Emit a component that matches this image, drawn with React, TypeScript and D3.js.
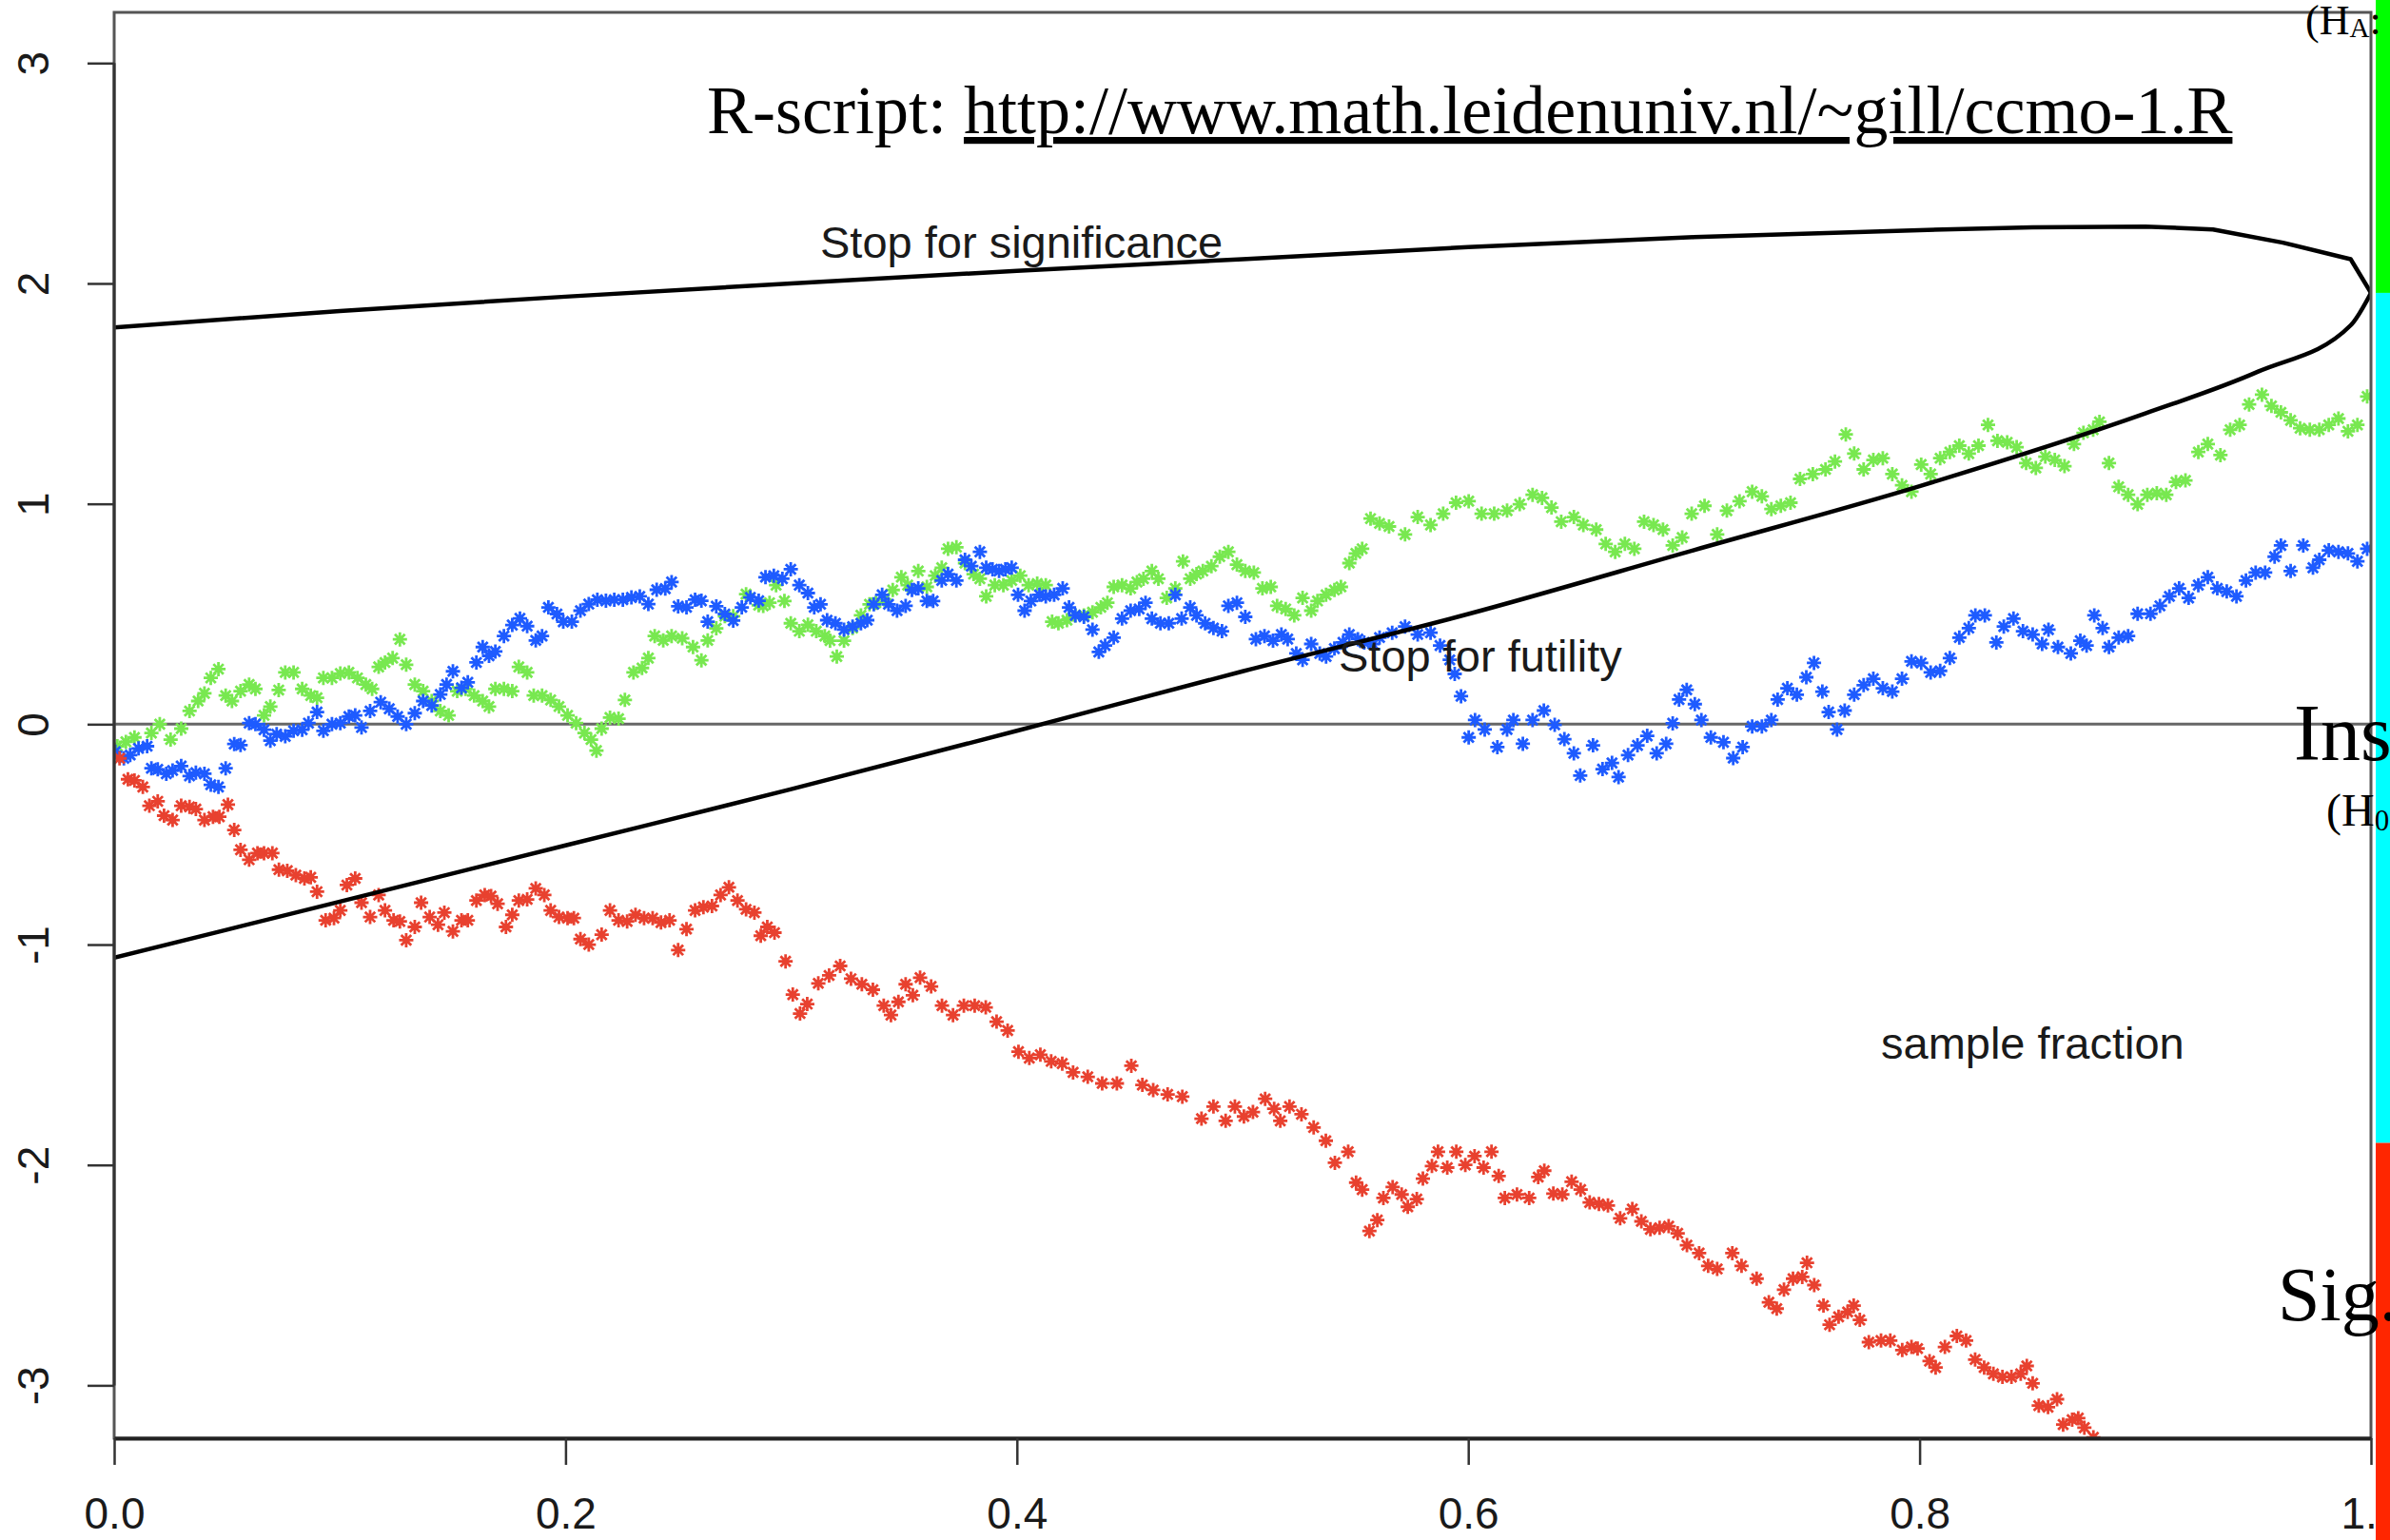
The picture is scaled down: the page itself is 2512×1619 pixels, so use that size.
import React, { useRef, useEffect } from 'react';
import * as d3 from 'd3';

const WIDTH = 2512;
const HEIGHT = 1619;
const PLOT = { left: 120, right: 2492, top: 13, bottom: 1512 };

const SANS = "'Liberation Sans', Arial, Helvetica, sans-serif";
const SERIF = "'Liberation Serif', 'Times New Roman', Times, serif";

const GREEN = '#78e850';
const BLUE = '#1e5bff';
const RED = '#e8412f';

const X_TICKS = [0, 0.2, 0.4, 0.6, 0.8, 1.0];
const Y_TICKS = [-3, -2, -1, 0, 1, 2, 3];
const Y_DOMAIN: [number, number] = [-3.24, 3.23];

// group-sequential boundaries (sample fraction, z)
const SIGNIFICANCE: [number, number][] = [
  [0, 1.80], [0.1, 1.875], [0.2, 1.94], [0.3, 2.0], [0.4, 2.057], [0.5, 2.11],
  [0.6, 2.165], [0.7, 2.21], [0.8, 2.242], [0.85, 2.255], [0.9, 2.258], [0.93, 2.245],
  [0.961, 2.185], [0.991, 2.11], [1.0, 1.957],
];
const FUTILITY: [number, number][] = [
  [0, -1.06], [0.1, -0.805], [0.2, -0.55], [0.3, -0.295], [0.4, -0.03], [0.5, 0.24],
  [0.6, 0.50], [0.7, 0.79], [0.8, 1.08], [0.9, 1.41], [0.95, 1.60], [0.991, 1.81], [1.0, 1.957],
];

// three simulated trials: cumulative z-statistic against sample fraction
const GREEN_WALK: [number, number][] = [
  [0.0014, -0.10], [0.0052, -0.08], [0.0090, -0.06], [0.0165, -0.04], [0.0202, 0.0], [0.0250, -0.07],
  [0.0297, -0.02], [0.0334, 0.06], [0.0372, 0.105], [0.0400, 0.14], [0.0428, 0.21], [0.0462, 0.25],
  [0.0494, 0.13], [0.0522, 0.105], [0.0560, 0.15], [0.0598, 0.18], [0.0626, 0.16], [0.0664, 0.04],
  [0.0692, 0.08], [0.0729, 0.155], [0.0758, 0.235], [0.0795, 0.235], [0.0833, 0.16], [0.0871, 0.13],
  [0.0899, 0.12], [0.0927, 0.21], [0.0965, 0.21], [0.1002, 0.23], [0.1040, 0.235], [0.1078, 0.21],
  [0.1115, 0.18], [0.1143, 0.16], [0.1172, 0.26], [0.1200, 0.28], [0.1234, 0.30], [0.1266, 0.385],
  [0.1294, 0.27], [0.1332, 0.18], [0.1369, 0.15], [0.1407, 0.105], [0.1445, 0.06], [0.1482, 0.04],
  [0.1520, 0.15], [0.1557, 0.16], [0.1595, 0.13], [0.1633, 0.105], [0.1661, 0.08], [0.1689, 0.16],
  [0.1727, 0.16], [0.1764, 0.15], [0.1793, 0.26], [0.1830, 0.235], [0.1859, 0.13], [0.1896, 0.13],
  [0.1934, 0.11], [0.1971, 0.08], [0.2009, 0.04], [0.2047, 0.005], [0.2084, -0.04], [0.2113, -0.07],
  [0.2137, -0.12], [0.2160, -0.02], [0.2197, 0.03], [0.2235, 0.025], [0.2263, 0.11], [0.2301, 0.235],
  [0.2339, 0.255], [0.2367, 0.30], [0.2395, 0.40], [0.2433, 0.38], [0.2470, 0.40], [0.2517, 0.39],
  [0.2565, 0.35], [0.2602, 0.29], [0.2630, 0.38], [0.2668, 0.435], [0.2706, 0.49], [0.2743, 0.49],
  [0.2800, 0.59], [0.2856, 0.54],
  [0.2876, 0.537], [0.2904, 0.551], [0.2933, 0.631], [0.2970, 0.559], [0.2998, 0.458], [0.3036, 0.422],
  [0.3074, 0.451], [0.3111, 0.422], [0.3149, 0.40], [0.3172, 0.379], [0.3202, 0.307], [0.3234, 0.379],
  [0.3272, 0.436], [0.3309, 0.494], [0.3347, 0.544], [0.3375, 0.551], [0.3413, 0.566], [0.3450, 0.609],
  [0.3488, 0.667], [0.3516, 0.631], [0.3563, 0.695], [0.3601, 0.623], [0.3638, 0.674], [0.3667, 0.71],
  [0.3695, 0.796], [0.3732, 0.803], [0.3770, 0.731], [0.3808, 0.681], [0.3836, 0.66], [0.3864, 0.58],
  [0.3902, 0.631], [0.3940, 0.631], [0.3977, 0.652], [0.4015, 0.674], [0.4052, 0.631], [0.4090, 0.638],
  [0.4128, 0.631], [0.4156, 0.465], [0.4184, 0.458], [0.4222, 0.472], [0.4259, 0.494], [0.4297, 0.494],
  [0.4335, 0.508], [0.4372, 0.53], [0.4401, 0.551], [0.4429, 0.623], [0.4466, 0.631], [0.4504, 0.616],
  [0.4532, 0.645], [0.4561, 0.66], [0.4598, 0.695], [0.4627, 0.66], [0.4664, 0.573], [0.4702, 0.616],
  [0.4736, 0.739], [0.4768, 0.66], [0.4796, 0.681], [0.4824, 0.695], [0.4862, 0.717], [0.4899, 0.76],
  [0.4937, 0.782], [0.4975, 0.724], [0.5012, 0.695], [0.5050, 0.688], [0.5088, 0.616], [0.5125, 0.623],
  [0.5153, 0.537], [0.5191, 0.523], [0.5229, 0.494], [0.5266, 0.573], [0.5304, 0.515], [0.5332, 0.559],
  [0.5370, 0.587], [0.5407, 0.609], [0.5436, 0.623], [0.5473, 0.731], [0.5502, 0.775], [0.5530, 0.796],
  [0.5567, 0.933],
  [0.5607, 0.911], [0.5649, 0.897], [0.5720, 0.861], [0.5776, 0.94], [0.5833, 0.904], [0.5889, 0.955],
  [0.5946, 1.005], [0.6002, 1.012], [0.6059, 0.955], [0.6115, 0.955], [0.6172, 0.969], [0.6228, 0.998],
  [0.6285, 1.041], [0.6327, 1.027], [0.6369, 0.983], [0.6412, 0.919], [0.6468, 0.94], [0.6510, 0.904],
  [0.6567, 0.883], [0.6609, 0.818], [0.6651, 0.782], [0.6694, 0.818], [0.6736, 0.796], [0.6779, 0.919],
  [0.6821, 0.904], [0.6863, 0.883], [0.6906, 0.811], [0.6948, 0.847], [0.6990, 0.955], [0.7047, 0.991],
  [0.7103, 0.861], [0.7146, 0.969], [0.7202, 1.012], [0.7258, 1.055], [0.7301, 1.034], [0.7343, 0.976],
  [0.7385, 0.991], [0.7428, 1.005], [0.7470, 1.113], [0.7527, 1.135], [0.7583, 1.156], [0.7625, 1.192],
  [0.7673, 1.315], [0.7710, 1.228], [0.7752, 1.156], [0.7795, 1.199], [0.7837, 1.207], [0.7879, 1.135],
  [0.7922, 1.084], [0.7964, 1.055], [0.8007, 1.178], [0.8049, 1.135], [0.8091, 1.207], [0.8134, 1.235],
  [0.8176, 1.264], [0.8218, 1.228], [0.8261, 1.264], [0.8303, 1.358], [0.8345, 1.286], [0.8388, 1.279],
  [0.8430, 1.257], [0.8472, 1.185], [0.8515, 1.163], [0.8557, 1.214], [0.8599, 1.199], [0.8642, 1.171],
  [0.8684, 1.271], [0.8726, 1.322], [0.8769, 1.336], [0.8797, 1.372], [0.8839, 1.185], [0.8882, 1.077],
  [0.8924, 1.041], [0.8966, 0.998], [0.9009, 1.041], [0.9051, 1.048], [0.9093, 1.041], [0.9136, 1.099],
  [0.9178, 1.106], [0.9235, 1.235], [0.9277, 1.271], [0.9333, 1.221], [0.9376, 1.336], [0.9418, 1.358],
  [0.9460, 1.451], [0.9517, 1.495], [0.9559, 1.444], [0.9601, 1.415], [0.9644, 1.379], [0.9686, 1.343],
  [0.9729, 1.336], [0.9771, 1.336], [0.9813, 1.358], [0.9856, 1.387], [0.9898, 1.329], [0.9940, 1.358],
  [0.9983, 1.487],
];

const BLUE_WALK: [number, number][] = [
  [0.0005, -0.125], [0.0043, -0.155], [0.0071, -0.14], [0.0108, -0.11], [0.0146, -0.10], [0.0165, -0.20],
  [0.0193, -0.205], [0.0231, -0.225], [0.0259, -0.21], [0.0297, -0.19], [0.0334, -0.235], [0.0362, -0.22],
  [0.0400, -0.225], [0.0428, -0.275], [0.0462, -0.285], [0.0494, -0.20], [0.0532, -0.09], [0.0560, -0.095],
  [0.0598, 0.005], [0.0626, 0.0], [0.0664, -0.025], [0.0692, -0.075], [0.0720, -0.045], [0.0758, -0.055],
  [0.0795, -0.03], [0.0833, -0.025], [0.0861, 0.005], [0.0899, 0.055], [0.0927, -0.03], [0.0965, 0.0],
  [0.1002, 0.005], [0.1040, 0.035], [0.1068, 0.04], [0.1096, -0.015], [0.1134, 0.06], [0.1181, 0.10],
  [0.1219, 0.07], [0.1256, 0.035], [0.1294, 0.0], [0.1332, 0.05], [0.1369, 0.105], [0.1407, 0.085],
  [0.1445, 0.135], [0.1473, 0.18], [0.1501, 0.24], [0.1539, 0.165], [0.1567, 0.19], [0.1605, 0.28],
  [0.1633, 0.35], [0.1661, 0.31], [0.1689, 0.33], [0.1727, 0.40], [0.1764, 0.45], [0.1798, 0.48],
  [0.1830, 0.445], [0.1868, 0.38], [0.1896, 0.40], [0.1924, 0.53], [0.1962, 0.50], [0.1990, 0.465],
  [0.2028, 0.465], [0.2066, 0.515], [0.2103, 0.545], [0.2141, 0.565], [0.2179, 0.56], [0.2216, 0.565],
  [0.2254, 0.565], [0.2292, 0.575], [0.2329, 0.58], [0.2367, 0.545], [0.2404, 0.61], [0.2442, 0.615],
  [0.2470, 0.645], [0.2499, 0.535], [0.2536, 0.53], [0.2574, 0.565], [0.2602, 0.56], [0.2630, 0.465],
  [0.2668, 0.535], [0.2706, 0.50], [0.2743, 0.47], [0.2781, 0.53], [0.2819, 0.575], [0.2856, 0.56],
  [0.2886, 0.667], [0.2923, 0.674], [0.2961, 0.66], [0.2998, 0.703], [0.3036, 0.631], [0.3074, 0.595],
  [0.3102, 0.53], [0.3130, 0.544], [0.3159, 0.472], [0.3196, 0.458], [0.3234, 0.429], [0.3272, 0.443],
  [0.3309, 0.458], [0.3337, 0.472], [0.3366, 0.544], [0.3403, 0.587], [0.3431, 0.544], [0.3469, 0.515],
  [0.3507, 0.537], [0.3535, 0.609], [0.3563, 0.616], [0.3601, 0.559], [0.3629, 0.559], [0.3667, 0.652],
  [0.3695, 0.681], [0.3732, 0.652], [0.3770, 0.746], [0.3798, 0.717], [0.3836, 0.782], [0.3864, 0.71],
  [0.3892, 0.703], [0.3921, 0.695], [0.3949, 0.703], [0.3977, 0.71], [0.4005, 0.587], [0.4034, 0.515],
  [0.4062, 0.559], [0.4100, 0.587], [0.4128, 0.58], [0.4165, 0.587], [0.4203, 0.616], [0.4231, 0.53],
  [0.4259, 0.494], [0.4297, 0.487], [0.4335, 0.429], [0.4363, 0.328], [0.4391, 0.357], [0.4429, 0.393],
  [0.4466, 0.479], [0.4504, 0.515], [0.4542, 0.523], [0.4570, 0.551], [0.4598, 0.479], [0.4636, 0.458],
  [0.4673, 0.458], [0.4702, 0.587], [0.4730, 0.479], [0.4768, 0.53], [0.4796, 0.494], [0.4834, 0.458],
  [0.4871, 0.436], [0.4909, 0.422], [0.4937, 0.537], [0.4975, 0.551], [0.5012, 0.487], [0.5059, 0.386],
  [0.5097, 0.40], [0.5135, 0.379], [0.5172, 0.407], [0.5200, 0.386], [0.5238, 0.321], [0.5266, 0.292],
  [0.5304, 0.364], [0.5342, 0.321], [0.5370, 0.307], [0.5407, 0.343], [0.5445, 0.371], [0.5473, 0.407],
  [0.5511, 0.386], [0.5539, 0.371], [0.5577, 0.364],
  [0.5607, 0.393], [0.5663, 0.415], [0.5720, 0.443], [0.5776, 0.407], [0.5833, 0.415], [0.5875, 0.357],
  [0.5918, 0.292], [0.5940, 0.228], [0.5968, 0.127], [0.6002, -0.06], [0.6030, 0.019], [0.6073, -0.024],
  [0.6129, -0.104], [0.6172, -0.024], [0.6200, 0.019], [0.6242, -0.089], [0.6285, 0.019], [0.6335, 0.062],
  [0.6383, -0.003], [0.6426, -0.068], [0.6468, -0.132], [0.6496, -0.233], [0.6553, -0.096], [0.6595, -0.204],
  [0.6637, -0.176], [0.6666, -0.24], [0.6708, -0.14], [0.6750, -0.096], [0.6793, -0.053], [0.6835, -0.132],
  [0.6877, -0.089], [0.6906, 0.004], [0.6934, 0.112], [0.6968, 0.156], [0.7004, 0.091], [0.7033, 0.019],
  [0.7075, -0.06], [0.7131, -0.082], [0.7174, -0.154], [0.7216, -0.104], [0.7258, -0.01], [0.7301, -0.01],
  [0.7343, 0.019], [0.7371, 0.112], [0.7414, 0.163], [0.7456, 0.134], [0.7498, 0.213], [0.7532, 0.278],
  [0.7569, 0.148], [0.7597, 0.055], [0.7634, -0.024], [0.7668, 0.062], [0.7710, 0.134], [0.7752, 0.177],
  [0.7795, 0.206], [0.7837, 0.163], [0.7879, 0.148], [0.7922, 0.206], [0.7964, 0.285], [0.8007, 0.278],
  [0.8049, 0.235], [0.8091, 0.242], [0.8134, 0.30], [0.8176, 0.393], [0.8218, 0.436], [0.8247, 0.494],
  [0.8289, 0.494], [0.8340, 0.371], [0.8373, 0.443], [0.8416, 0.479], [0.8458, 0.422], [0.8501, 0.407],
  [0.8543, 0.364], [0.8571, 0.429], [0.8613, 0.35], [0.8670, 0.321], [0.8712, 0.379], [0.8740, 0.357],
  [0.8774, 0.494], [0.8811, 0.436], [0.8839, 0.35], [0.8882, 0.393], [0.8924, 0.40], [0.8966, 0.501],
  [0.9023, 0.501], [0.9065, 0.537], [0.9107, 0.58], [0.9150, 0.616], [0.9192, 0.573], [0.9235, 0.631],
  [0.9277, 0.667], [0.9319, 0.616], [0.9361, 0.602], [0.9404, 0.58], [0.9446, 0.652], [0.9489, 0.688],
  [0.9531, 0.688], [0.9573, 0.76], [0.9601, 0.811], [0.9644, 0.695], [0.9700, 0.811], [0.9743, 0.71],
  [0.9771, 0.746], [0.9813, 0.789], [0.9856, 0.782], [0.9898, 0.775], [0.9940, 0.739], [0.9983, 0.796],
];

const RED_WALK: [number, number][] = [
  [0.0024, -0.155], [0.0061, -0.25], [0.0090, -0.255], [0.0127, -0.285], [0.0156, -0.37], [0.0193, -0.35],
  [0.0221, -0.415], [0.0259, -0.435], [0.0297, -0.37], [0.0334, -0.375], [0.0362, -0.385], [0.0400, -0.435],
  [0.0438, -0.42], [0.0466, -0.42], [0.0504, -0.365], [0.0532, -0.48], [0.0560, -0.57], [0.0598, -0.615],
  [0.0635, -0.585], [0.0664, -0.585], [0.0701, -0.585], [0.0730, -0.66], [0.0767, -0.665], [0.0805, -0.685],
  [0.0843, -0.70], [0.0871, -0.695], [0.0899, -0.76], [0.0937, -0.89], [0.0974, -0.88], [0.1002, -0.845],
  [0.1031, -0.73], [0.1068, -0.70], [0.1096, -0.81], [0.1134, -0.875], [0.1172, -0.775], [0.1200, -0.845],
  [0.1238, -0.89], [0.1266, -0.895], [0.1294, -0.98], [0.1332, -0.92], [0.1360, -0.81], [0.1398, -0.875],
  [0.1435, -0.91], [0.1463, -0.855], [0.1501, -0.94], [0.1539, -0.89], [0.1567, -0.89], [0.1605, -0.80],
  [0.1642, -0.775], [0.1670, -0.78], [0.1699, -0.815], [0.1736, -0.92], [0.1764, -0.865], [0.1793, -0.80],
  [0.1830, -0.795], [0.1868, -0.745], [0.1906, -0.775], [0.1934, -0.845], [0.1971, -0.875], [0.2009, -0.88],
  [0.2037, -0.88], [0.2066, -0.975], [0.2103, -1.00], [0.2160, -0.955], [0.2197, -0.845], [0.2235, -0.89],
  [0.2273, -0.895], [0.2310, -0.865], [0.2348, -0.88], [0.2386, -0.88], [0.2423, -0.90], [0.2461, -0.89],
  [0.2499, -1.025], [0.2536, -0.93], [0.2574, -0.845], [0.2611, -0.83], [0.2649, -0.825], [0.2687, -0.775],
  [0.2724, -0.74], [0.2762, -0.80], [0.2800, -0.84], [0.2837, -0.855], [0.2865, -0.96], [0.2894, -0.92],
  [0.2926, -0.946], [0.2975, -1.076], [0.3007, -1.227], [0.3039, -1.313], [0.3071, -1.27], [0.3120, -1.176],
  [0.3168, -1.14], [0.3217, -1.097], [0.3265, -1.155], [0.3313, -1.18], [0.3362, -1.205], [0.3410, -1.277],
  [0.3442, -1.32], [0.3475, -1.26], [0.3507, -1.18], [0.3539, -1.23], [0.3571, -1.15], [0.3620, -1.19],
  [0.3668, -1.277], [0.3717, -1.32], [0.3765, -1.277], [0.3813, -1.277], [0.3862, -1.285], [0.3910, -1.35],
  [0.3959, -1.39], [0.4007, -1.486], [0.4055, -1.515], [0.4104, -1.50], [0.4152, -1.53], [0.4201, -1.54],
  [0.4249, -1.58], [0.4314, -1.60], [0.4378, -1.63], [0.4443, -1.63], [0.4507, -1.55], [0.4556, -1.637],
  [0.4604, -1.66], [0.4668, -1.68], [0.4733, -1.69],
  [0.4818, -1.79], [0.4871, -1.735], [0.4925, -1.80], [0.4966, -1.735], [0.5006, -1.78], [0.5046, -1.76],
  [0.5100, -1.70], [0.5140, -1.745], [0.5167, -1.80], [0.5208, -1.735], [0.5261, -1.77], [0.5315, -1.83],
  [0.5369, -1.89], [0.5409, -1.99], [0.5468, -1.94], [0.5503, -2.08], [0.5530, -2.112], [0.5562, -2.30],
  [0.5597, -2.25], [0.5624, -2.15], [0.5665, -2.10], [0.5705, -2.134], [0.5732, -2.19], [0.5772, -2.155],
  [0.5799, -2.062], [0.5839, -2.005], [0.5866, -1.94], [0.5907, -2.012], [0.5947, -1.94], [0.5987, -2.0],
  [0.6028, -1.96], [0.6068, -2.012], [0.6103, -1.94], [0.6135, -2.05], [0.6162, -2.15], [0.6216, -2.134],
  [0.6270, -2.15], [0.6310, -2.055], [0.6337, -2.026], [0.6377, -2.13], [0.6417, -2.134], [0.6458, -2.076],
  [0.6498, -2.112], [0.6538, -2.17], [0.6579, -2.177], [0.6619, -2.184], [0.6673, -2.242], [0.6727, -2.2],
  [0.6767, -2.256], [0.6807, -2.292], [0.6848, -2.285], [0.6888, -2.278], [0.6928, -2.31], [0.6969, -2.364],
  [0.7023, -2.40], [0.7063, -2.458], [0.7103, -2.472], [0.7170, -2.40], [0.7211, -2.458], [0.7278, -2.516],
  [0.7332, -2.623], [0.7367, -2.652], [0.7399, -2.566], [0.7439, -2.516], [0.7480, -2.508], [0.7501, -2.444],
  [0.7533, -2.545], [0.7574, -2.638], [0.7601, -2.725], [0.7641, -2.689], [0.7681, -2.667], [0.7708, -2.638],
  [0.7735, -2.703], [0.7775, -2.804], [0.7829, -2.797], [0.7870, -2.797], [0.7923, -2.84], [0.7964, -2.826],
  [0.7991, -2.833], [0.8044, -2.89], [0.8071, -2.919], [0.8112, -2.826], [0.8165, -2.776], [0.8206, -2.797],
  [0.8246, -2.883], [0.8286, -2.919], [0.8327, -2.948], [0.8367, -2.962], [0.8407, -2.962], [0.8448, -2.948],
  [0.8475, -2.912], [0.8501, -2.991], [0.8528, -3.092], [0.8569, -3.099], [0.8609, -3.063], [0.8636, -3.178],
  [0.8676, -3.156], [0.8703, -3.149], [0.8730, -3.192], [0.8770, -3.236],
];

const SERIES = [
  { name: 'green', color: GREEN, points: GREEN_WALK },
  { name: 'blue', color: BLUE, points: BLUE_WALK },
  { name: 'red', color: RED, points: RED_WALK },
];

// decision zones painted on the right edge: H_A / insufficient / significant
const ZONE_BREAKS = [1.957, -1.9];
const ZONE_COLORS = ['#00ff00', '#00ffff', '#ff2600'];

// R's pch = 8: a "+" laid over an "x"
const asterisk8: d3.SymbolType = {
  draw(context, size) {
    const r = Math.sqrt(size) / 2;
    const d = r * Math.SQRT1_2;
    context.moveTo(-r, 0); context.lineTo(r, 0);
    context.moveTo(0, -r); context.lineTo(0, r);
    context.moveTo(-d, -d); context.lineTo(d, d);
    context.moveTo(-d, d); context.lineTo(d, -d);
  },
};

export default function App() {
  const svgRef = useRef<SVGSVGElement>(null);

  useEffect(() => {
    if (!svgRef.current) return;
    const svg = d3.select(svgRef.current);
    svg.selectAll('*').remove();

    const x = d3.scaleLinear().domain([0, 1]).range([PLOT.left, PLOT.right]);
    const y = d3.scaleLinear().domain(Y_DOMAIN).range([PLOT.bottom, PLOT.top]);

    svg.append('rect').attr('width', WIDTH).attr('height', HEIGHT).attr('fill', '#fff');

    svg.append('defs').append('clipPath').attr('id', 'plot-clip')
      .append('rect')
      .attr('x', PLOT.left).attr('y', PLOT.top)
      .attr('width', PLOT.right - PLOT.left).attr('height', PLOT.bottom - PLOT.top);

    const plot = svg.append('g').attr('clip-path', 'url(#plot-clip)');

    // zero reference line
    plot.append('line')
      .attr('x1', PLOT.left).attr('x2', PLOT.right)
      .attr('y1', y(0)).attr('y2', y(0))
      .attr('stroke', '#666').attr('stroke-width', 3);

    // stars
    const star = d3.symbol().type(asterisk8).size(225);
    SERIES.forEach(s => {
      plot.append('g')
        .selectAll('path')
        .data(s.points)
        .join('path')
        .attr('transform', d => `translate(${x(d[0])},${y(d[1])})`)
        .attr('d', star)
        .attr('fill', 'none')
        .attr('stroke', s.color)
        .attr('stroke-width', 2.8);
    });

    // boundaries: significance is piecewise, futility is a smooth convex curve
    const straight = d3.line<[number, number]>().x(d => x(d[0])).y(d => y(d[1]));
    const smooth = d3.line<[number, number]>().x(d => x(d[0])).y(d => y(d[1])).curve(d3.curveMonotoneX);
    [
      { pts: SIGNIFICANCE, gen: straight },
      { pts: FUTILITY, gen: smooth },
    ].forEach(b => {
      plot.append('path').datum(b.pts)
        .attr('d', b.gen)
        .attr('fill', 'none')
        .attr('stroke', '#000')
        .attr('stroke-width', 4.5)
        .attr('stroke-linejoin', 'round');
    });

    // box
    svg.append('rect')
      .attr('x', PLOT.left).attr('y', PLOT.top)
      .attr('width', PLOT.right - PLOT.left).attr('height', PLOT.bottom - PLOT.top)
      .attr('fill', 'none').attr('stroke', '#555').attr('stroke-width', 3);

    // x axis
    svg.append('g')
      .attr('transform', `translate(0,${PLOT.bottom})`)
      .call(d3.axisBottom(x).tickValues(X_TICKS).tickSize(28).tickSizeOuter(0).tickFormat(d3.format('.1f')))
      .call(g => g.select('.domain').attr('stroke', '#222').attr('stroke-width', 4))
      .call(g => g.selectAll('.tick line').attr('stroke', '#333').attr('stroke-width', 2.5))
      .call(g => g.selectAll('.tick text')
        .attr('y', 95).attr('dy', 0)
        .attr('fill', '#1a1a1a').attr('font-size', 46).attr('font-family', SANS));

    // y axis (labels parallel to the axis, as in R, with a plain hyphen minus)
    svg.append('g')
      .attr('transform', `translate(${PLOT.left},0)`)
      .call(d3.axisLeft(y).tickValues(Y_TICKS).tickSize(28).tickSizeOuter(0).tickFormat(d => String(d)))
      .call(g => g.select('.domain').attr('d', `M0,${y(3)}V${y(-3)}`).attr('stroke', '#333').attr('stroke-width', 3))
      .call(g => g.selectAll('.tick line').attr('stroke', '#333').attr('stroke-width', 2.5))
      .call(g => g.selectAll('.tick text')
        .attr('transform', 'rotate(-90)')
        .attr('x', 0).attr('y', -69).attr('dy', 0)
        .attr('text-anchor', 'middle')
        .attr('fill', '#1a1a1a').attr('font-size', 46).attr('font-family', SANS));

    // in-plot labels
    const labels = [
      { text: 'Stop for significance', x: 862, y: 271 },
      { text: 'Stop for futility', x: 1407, y: 706 },
      { text: 'sample fraction', x: 1977, y: 1113 },
    ];
    svg.append('g').selectAll('text').data(labels).join('text')
      .attr('x', d => d.x).attr('y', d => d.y)
      .attr('font-family', SANS).attr('font-size', 47).attr('fill', '#1a1a1a')
      .text(d => d.text);

    const script = svg.append('text')
      .attr('x', 743).attr('y', 140)
      .attr('font-family', SERIF).attr('font-size', 72).attr('fill', '#000');
    script.append('tspan').text('R-script: ');
    script.append('tspan').attr('text-decoration', 'underline')
      .text('http://www.math.leidenuniv.nl/~gill/ccmo-1.R');

    // decision zone bar on the right edge
    const breaks = [0, y(ZONE_BREAKS[0]), y(ZONE_BREAKS[1]), HEIGHT];
    svg.append('g').selectAll('rect').data(ZONE_COLORS).join('rect')
      .attr('x', 2497).attr('width', WIDTH - 2497)
      .attr('y', (_, i) => breaks[i])
      .attr('height', (_, i) => breaks[i + 1] - breaks[i])
      .attr('fill', d => d);

    // slide text overlapping the bar
    const ha = svg.append('text').attr('x', 2423).attr('y', 36)
      .attr('font-family', SERIF).attr('font-size', 44).attr('fill', '#000');
    ha.append('tspan').text('(H');
    ha.append('tspan').attr('font-size', 29).attr('dy', 3).text('A');
    ha.append('tspan').attr('dy', -3).text(':');

    svg.append('text').attr('x', 2411).attr('y', 799)
      .attr('font-family', SERIF).attr('font-size', 84).attr('fill', '#000')
      .text('Ins');

    const h0 = svg.append('text').attr('x', 2445).attr('y', 868)
      .attr('font-family', SERIF).attr('font-size', 48).attr('fill', '#000');
    h0.append('tspan').text('(H');
    h0.append('tspan').attr('font-size', 31).attr('dy', 5).text('0');

    svg.append('text').attr('x', 2394).attr('y', 1388)
      .attr('font-family', SERIF).attr('font-size', 80).attr('fill', '#000')
      .text('Sig.');
  }, []);

  return (
    <svg
      ref={svgRef}
      width={WIDTH}
      height={HEIGHT}
      style={{ position: 'absolute', left: 0, top: 0, display: 'block' }}
    />
  );
}
